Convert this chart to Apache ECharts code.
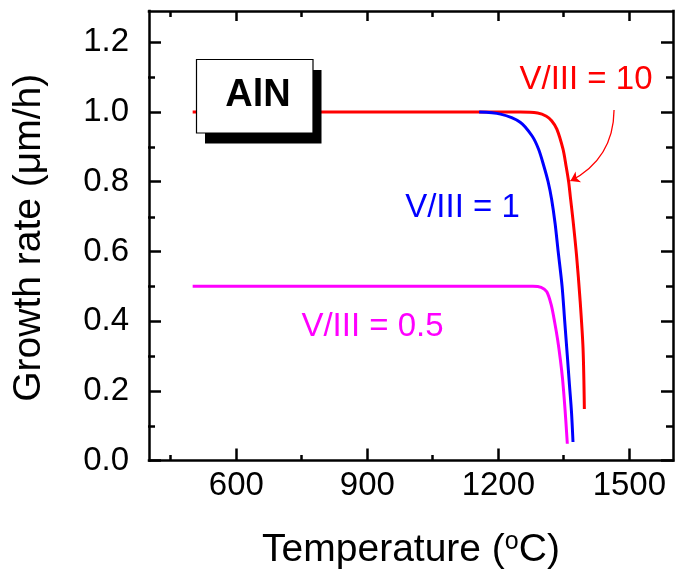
<!DOCTYPE html>
<html><head><meta charset="utf-8">
<script src="https://cdn.jsdelivr.net/npm/echarts@6/dist/echarts.min.js"></script>
<style>html,body{margin:0;padding:0;background:#fff}#c{width:675px;height:575px}</style>
</head><body><div id="c"></div>
<script>
// ---- data ----
const xTickLabels = [600, 900, 1200, 1500];
const xMinorTicks = [450, 750, 1050, 1350];
const yTickLabels = [0, 0.2, 0.4, 0.6, 0.8, 1.0, 1.2];
const yMinorTicks = [0.1, 0.3, 0.5, 0.7, 0.9, 1.1];

const tempR = [500, 1250, 1290, 1310, 1322, 1334, 1348, 1355, 1361, 1365, 1371, 1379, 1387, 1394, 1397];
const rateR = [1.0, 1.0, 0.997, 0.988, 0.975, 0.951, 0.894, 0.846, 0.80, 0.756, 0.69, 0.59, 0.464, 0.321, 0.148];

const tempB = [1156, 1205, 1250, 1277, 1292, 1304, 1314, 1322, 1330, 1337, 1346, 1352, 1358, 1363, 1367.5, 1371];
const rateB = [1.0, 0.994, 0.971, 0.932, 0.894, 0.846, 0.80, 0.75, 0.68, 0.60, 0.50, 0.40, 0.30, 0.215, 0.14, 0.053];

const tempM = [500, 1279, 1298, 1311, 1321, 1329, 1336, 1342, 1347, 1351, 1354.5, 1358];
const rateM = [0.5, 0.5, 0.497, 0.484, 0.447, 0.397, 0.345, 0.29, 0.235, 0.175, 0.115, 0.048];

const seriesNames = ['V/III = 10', 'V/III = 1', 'V/III = 0.5'];
const arrowFrom = [1465, 1.006];
const arrowTo = [1365, 0.802];

// ---- chart ----
const FONT = '"Liberation Sans", Arial, sans-serif';
const zip = (a, b) => a.map((v, i) => [v, b[i]]);
const frame = { color: '#000', width: 2.5, cap: 'square' };

function xAx(grid, pos, major) {
  const ticks = major ? xTickLabels : xMinorTicks;
  const ax = {
    type: 'value', gridIndex: grid, position: pos, min: 400, max: 1600,
    axisLine: { show: major, onZero: false, lineStyle: frame },
    axisTick: { show: true, inside: true, customValues: ticks,
      length: major ? (pos === 'bottom' ? 12 : 10) : 6, lineStyle: { color: '#000', width: 2.5 } },
    axisLabel: { show: major && pos === 'bottom', customValues: ticks, margin: 9,
      fontSize: 33, fontFamily: FONT, color: '#000', formatter: v => String(v) },
    splitLine: { show: false }
  };
  if (major && pos === 'bottom') {
    ax.name = '{t|Temperature (}{s|o}{t|C)}';
    ax.nameLocation = 'middle';
    ax.nameGap = 69;
    ax.nameTextStyle = { rich: {
      t: { fontSize: 39, fontFamily: FONT, color: '#000', lineHeight: 42 },
      s: { fontSize: 25, fontFamily: FONT, color: '#000', lineHeight: 25, verticalAlign: 'top' }
    } };
  }
  return ax;
}
function yAx(grid, pos, major) {
  const ticks = major ? yTickLabels : yMinorTicks;
  const ax = {
    type: 'value', gridIndex: grid, position: pos, min: 0, max: 1.29,
    axisLine: { show: major, onZero: false, lineStyle: frame },
    axisTick: { show: true, inside: true, customValues: ticks,
      length: major ? 12 : 7, lineStyle: { color: '#000', width: 2.5 } },
    axisLabel: { show: major && pos === 'left', customValues: ticks, margin: 20,
      fontSize: 33, fontFamily: FONT, color: '#000', formatter: v => v.toFixed(1) },
    splitLine: { show: false }
  };
  if (major && pos === 'left') {
    ax.name = 'Growth rate (\u03bcm/h)';
    ax.nameLocation = 'middle';
    ax.nameGap = 99;
    ax.nameTextStyle = { fontSize: 39, fontFamily: FONT, color: '#000', lineHeight: 42, padding: [0, 4, 0, 0] };
  }
  return ax;
}

const chart = echarts.init(document.getElementById('c'), null, { renderer: 'canvas' });
const g = { left: 148, top: 11, width: 525, height: 450 };
chart.setOption({
  animation: false,
  backgroundColor: '#fff',
  grid: [Object.assign({}, g), Object.assign({}, g)],
  xAxis: [xAx(0, 'bottom', true), xAx(0, 'top', true), xAx(1, 'bottom', false), xAx(1, 'top', false)],
  yAxis: [yAx(0, 'left', true), yAx(0, 'right', true), yAx(1, 'left', false), yAx(1, 'right', false)],
  series: [
    { name: seriesNames[0], type: 'line', xAxisIndex: 0, yAxisIndex: 0, data: zip(tempR, rateR),
      showSymbol: false, smooth: 0.3, lineStyle: { color: '#ff0000', width: 3 }, z: 2 },
    { name: seriesNames[2], type: 'line', xAxisIndex: 0, yAxisIndex: 0, data: zip(tempM, rateM),
      showSymbol: false, smooth: 0.3, lineStyle: { color: '#ff00ff', width: 3 }, z: 2 },
    { name: seriesNames[1], type: 'line', xAxisIndex: 0, yAxisIndex: 0, data: zip(tempB, rateB),
      showSymbol: false, smooth: 0.3, lineStyle: { color: '#0000ff', width: 3 }, z: 2 },
    { type: 'lines', coordinateSystem: 'cartesian2d', xAxisIndex: 0, yAxisIndex: 0,
      symbol: ['none', 'arrow'], symbolSize: 9,
      lineStyle: { color: '#ff0000', width: 1.3, curveness: 0.3, opacity: 1 },
      data: [{ coords: [arrowFrom, arrowTo] }], z: 3 }
  ],
  graphic: [
    { type: 'rect', z: 100, shape: { x: 205, y: 70, width: 116.5, height: 73.5 }, style: { fill: '#000' } },
    { type: 'rect', z: 101, shape: { x: 196.5, y: 59.5, width: 116.5, height: 73.5 },
      style: { fill: '#fff', stroke: '#000', lineWidth: 1.2 } },
    { type: 'text', z: 102, x: 258, y: 96, style: { text: 'AlN', font: 'bold 38px ' + FONT,
      fill: '#000', align: 'center', verticalAlign: 'middle' } },
    { type: 'text', z: 102, x: 586, y: 80, style: { text: seriesNames[0], font: '33px ' + FONT,
      fill: '#ff0000', align: 'center', verticalAlign: 'middle' } },
    { type: 'text', z: 102, x: 462.5, y: 207.5, style: { text: seriesNames[1], font: '33px ' + FONT,
      fill: '#0000ff', align: 'center', verticalAlign: 'middle' } },
    { type: 'text', z: 102, x: 372.5, y: 326.7, style: { text: seriesNames[2], font: '33px ' + FONT,
      fill: '#ff00ff', align: 'center', verticalAlign: 'middle' } }
  ]
});
</script></body></html>
